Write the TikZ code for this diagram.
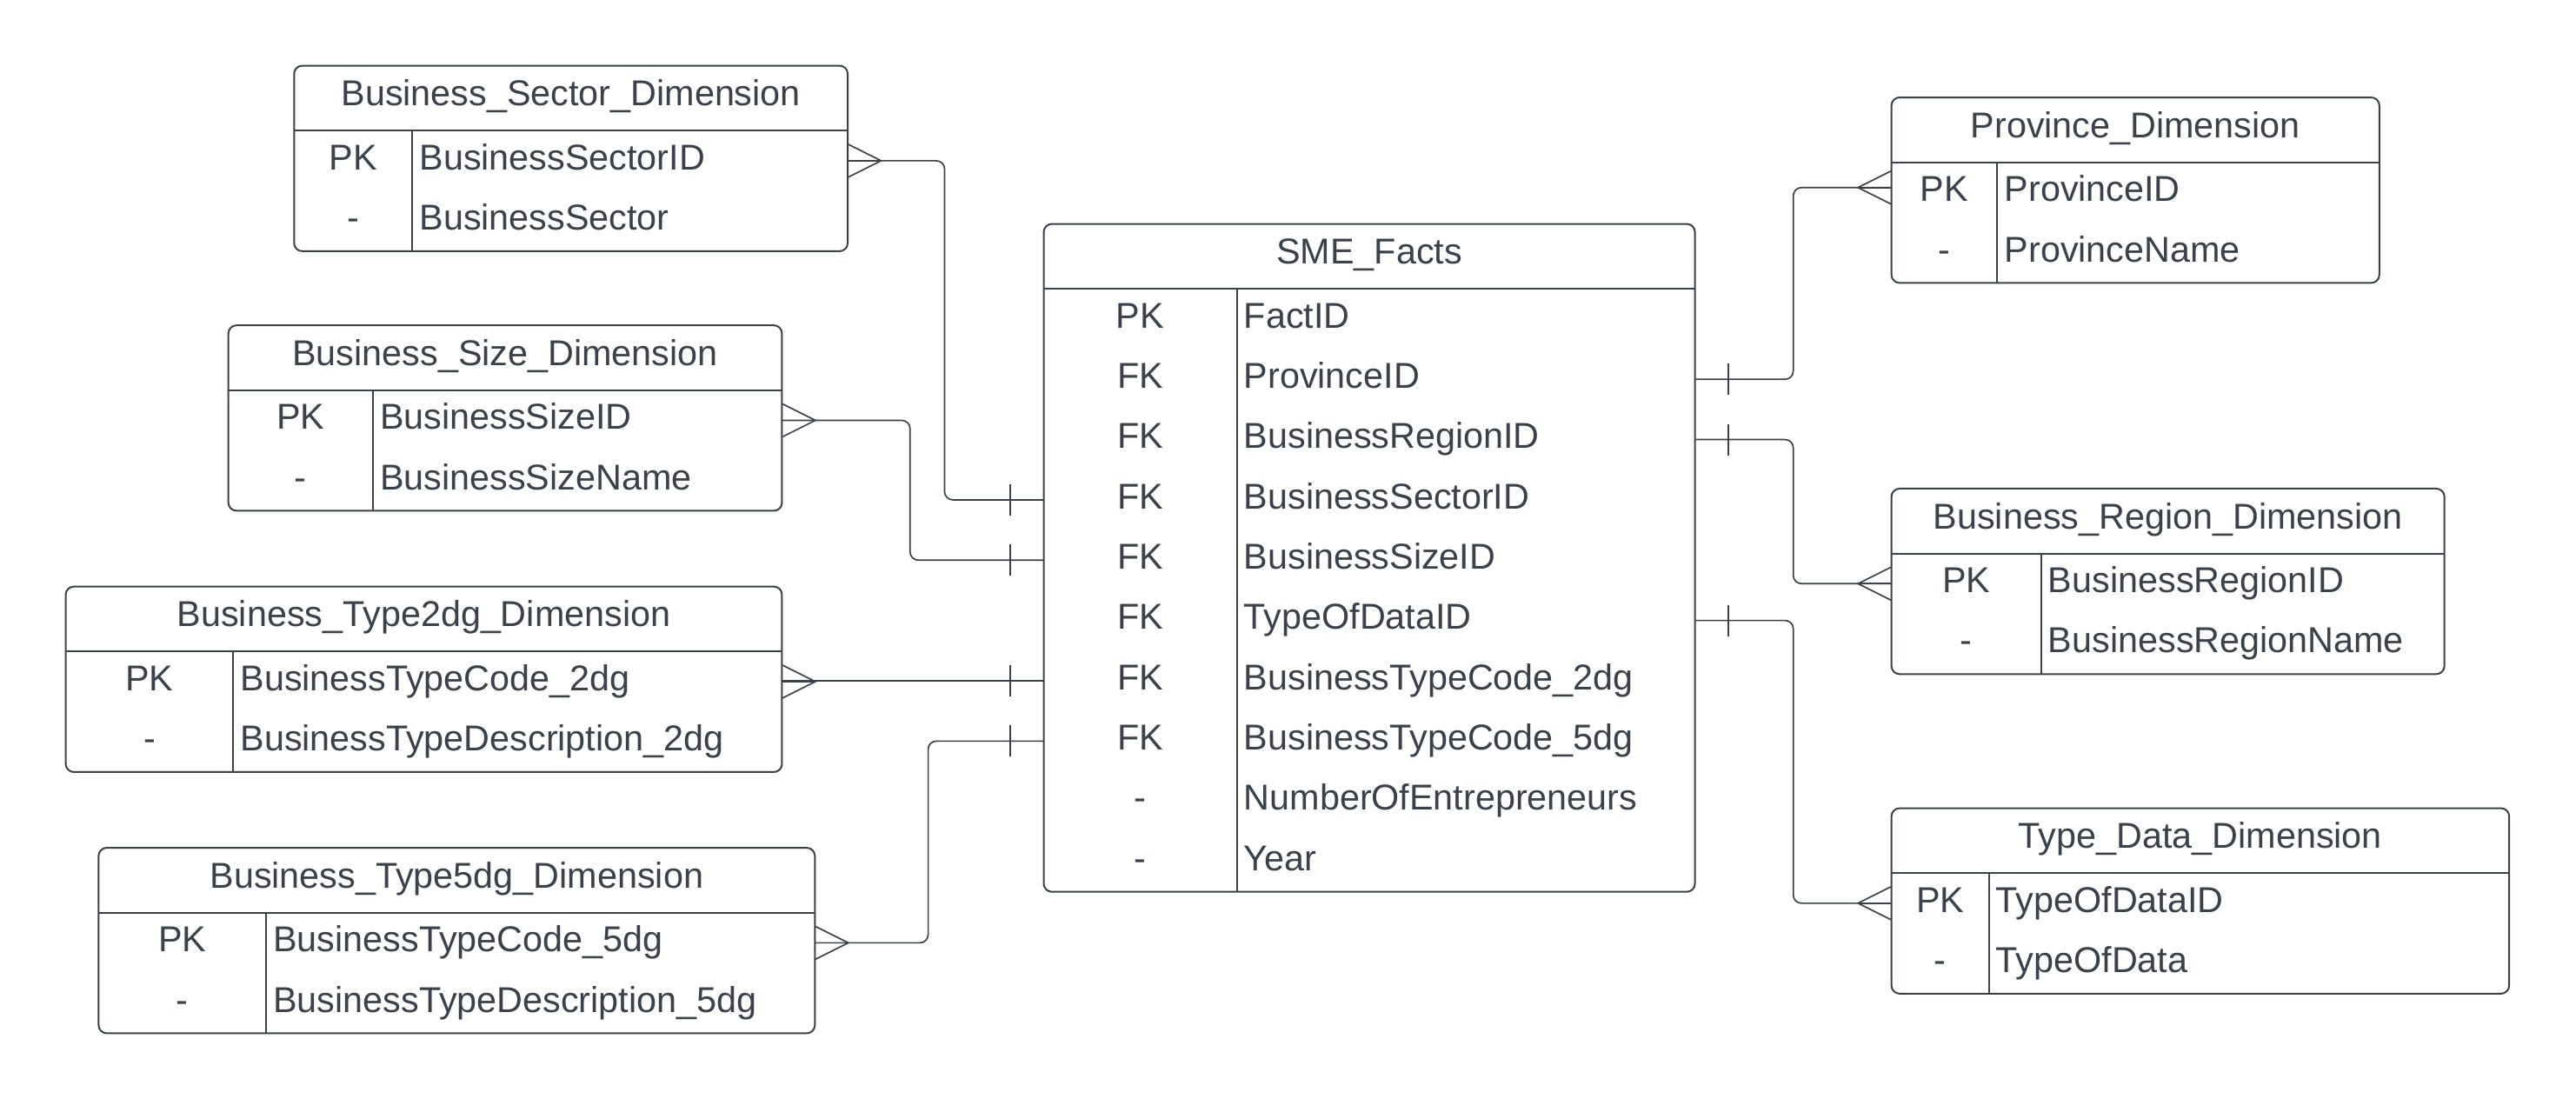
\documentclass[tikz,border=0pt]{standalone}
\usepackage{fontspec}
\setmainfont{Liberation Sans}
\usepackage{tikz}

\definecolor{lineGray}{HTML}{3A414A}

\begin{document}
\begin{tikzpicture}[
    x=0.02cm, y=-0.02cm,
    tableline/.style={draw=lineGray, line width=0.6pt},
    connector/.style={draw=lineGray, line width=0.5pt, rounded corners=0.1cm},
    titletext/.style={anchor=base, inner sep=0pt, text=lineGray, font=\tableFont},
    keytext/.style={anchor=base, inner sep=0pt, text=lineGray, font=\tableFont},
    fieldtext/.style={anchor=base west, inner sep=0pt, text=lineGray, font=\tableFont},
    rownode/.style={inner sep=0pt, minimum height=36.7*0.02cm},
]

    \def\tableFont{\fontsize{12.45pt}{15pt}\selectfont}
    \def\hHead{39.5}
    \def\hRow{36.7}

    \useasboundingbox [fill=white] (0, 0) rectangle (1568, 668.9);

    % one table:
    % #1 name, #2 left, #3 top, #4 width, #5 key width,
    % #6 number of rows, #7 title, #8 key/field list
    \def\erTable#1#2#3#4#5#6#7#8{
        \draw [tableline, rounded corners=0.1cm] (#2, #3) rectangle ++(#4, \hHead + \hRow*#6);
        \draw [tableline] (#2, #3 + \hHead) -- ++(#4, 0);
        \draw [tableline] (#2 + #5, #3 + \hHead) -- ++(0, \hRow*#6);
        \node [titletext] (#1-title) at (#2 + #4/2, #3 + 24.5) {#7};
        \foreach \key/\field [count=\i] in {#8}
        {
            \node [rownode, minimum width=#4*0.02cm] (#1-\i) at (#2 + #4/2, #3 + \hHead + \hRow*\i - \hRow/2) {};
            \node [keytext] (#1-key-\i) at (#2 + #5/2, #3 + \hHead + \hRow*\i - \hRow + 23.8) {\key};
            \node [fieldtext] (#1-field-\i) at (#2 + #5 + 4, #3 + \hHead + \hRow*\i - \hRow + 23.8) {\field};
        }
    }

    % fact table
    \erTable{facts}{635.3}{136.3}{396.4}{117.5}{10}{SME\_Facts}{
        PK/FactID, FK/ProvinceID, FK/BusinessRegionID, FK/BusinessSectorID,
        FK/BusinessSizeID, FK/TypeOfDataID, FK/BusinessTypeCode\_2dg,
        FK/BusinessTypeCode\_5dg, -/NumberOfEntrepreneurs, -/Year}

    % left dimension tables
    \erTable{sector}{179}{40}{337}{72}{2}{Business\_Sector\_Dimension}{PK/BusinessSectorID, -/BusinessSector}
    \erTable{size}{139}{198}{337}{88}{2}{Business\_Size\_Dimension}{PK/BusinessSizeID, -/BusinessSizeName}
    \erTable{typetwo}{40}{357}{436}{102}{2}{Business\_Type2dg\_Dimension}{PK/BusinessTypeCode\_2dg, -/BusinessTypeDescription\_2dg}
    \erTable{typefive}{60}{516}{436}{102}{2}{Business\_Type5dg\_Dimension}{PK/BusinessTypeCode\_5dg, -/BusinessTypeDescription\_5dg}

    % right dimension tables
    \erTable{province}{1151.3}{59.3}{297}{64.5}{2}{Province\_Dimension}{PK/ProvinceID, -/ProvinceName}
    \erTable{region}{1151.3}{297.4}{336.6}{91.1}{2}{Business\_Region\_Dimension}{PK/BusinessRegionID, -/BusinessRegionName}
    \erTable{typedata}{1151.3}{491.9}{376}{59.3}{2}{Type\_Data\_Dimension}{PK/TypeOfDataID, -/TypeOfData}

    % left connectors (fact row / dimension row / bend offset)
    \foreach \factRow/\dimRow/\dx in {facts-4/sector-1/-60, facts-5/size-1/-81, facts-8/typefive-1/-70}
    {
        \draw [connector] (\factRow.west) -- ++(\dx, 0) |- (\dimRow.east);
    }
    \draw [connector] (facts-7.west) -- (facts-7.west -| typetwo-1.east);

    % right connectors (dy: small lift at the dimension end)
    \foreach \factRow/\dimRow/\dy in {facts-2/province-1/0.06cm, facts-3/region-1/0cm, facts-6/typedata-1/0cm}
    {
        \draw [connector] (\factRow.east) -- ++(59.5, 0) |- ([yshift=\dy]\dimRow.west);
    }

    % crow's feet (many) on the dimension side
    \foreach \dimRow/\side/\dir/\dy in {
    sector-1/east/1/0cm, size-1/east/1/0cm, typetwo-1/east/1/0cm, typefive-1/east/1/0cm,
    province-1/west/-1/0.06cm, region-1/west/-1/0cm, typedata-1/west/-1/0cm}
    {
        \draw [connector, sharp corners] ([yshift=\dy]\dimRow.\side) ++(0, -10) -- ++(20*\dir, 10) -- ++(-20*\dir, 10);
        \draw [connector] ([yshift=\dy]\dimRow.\side) -- ++(20*\dir, 0);
    }

    % single bars (one) on the fact side
    \foreach \factRow/\side/\dir in {
    facts-4/west/-1, facts-5/west/-1, facts-7/west/-1, facts-8/west/-1,
    facts-2/east/1, facts-3/east/1, facts-6/east/1}
    {
        \draw [connector] (\factRow.\side) ++(20*\dir, -9.5) -- ++(0, 19);
    }

\end{tikzpicture}
\end{document}
